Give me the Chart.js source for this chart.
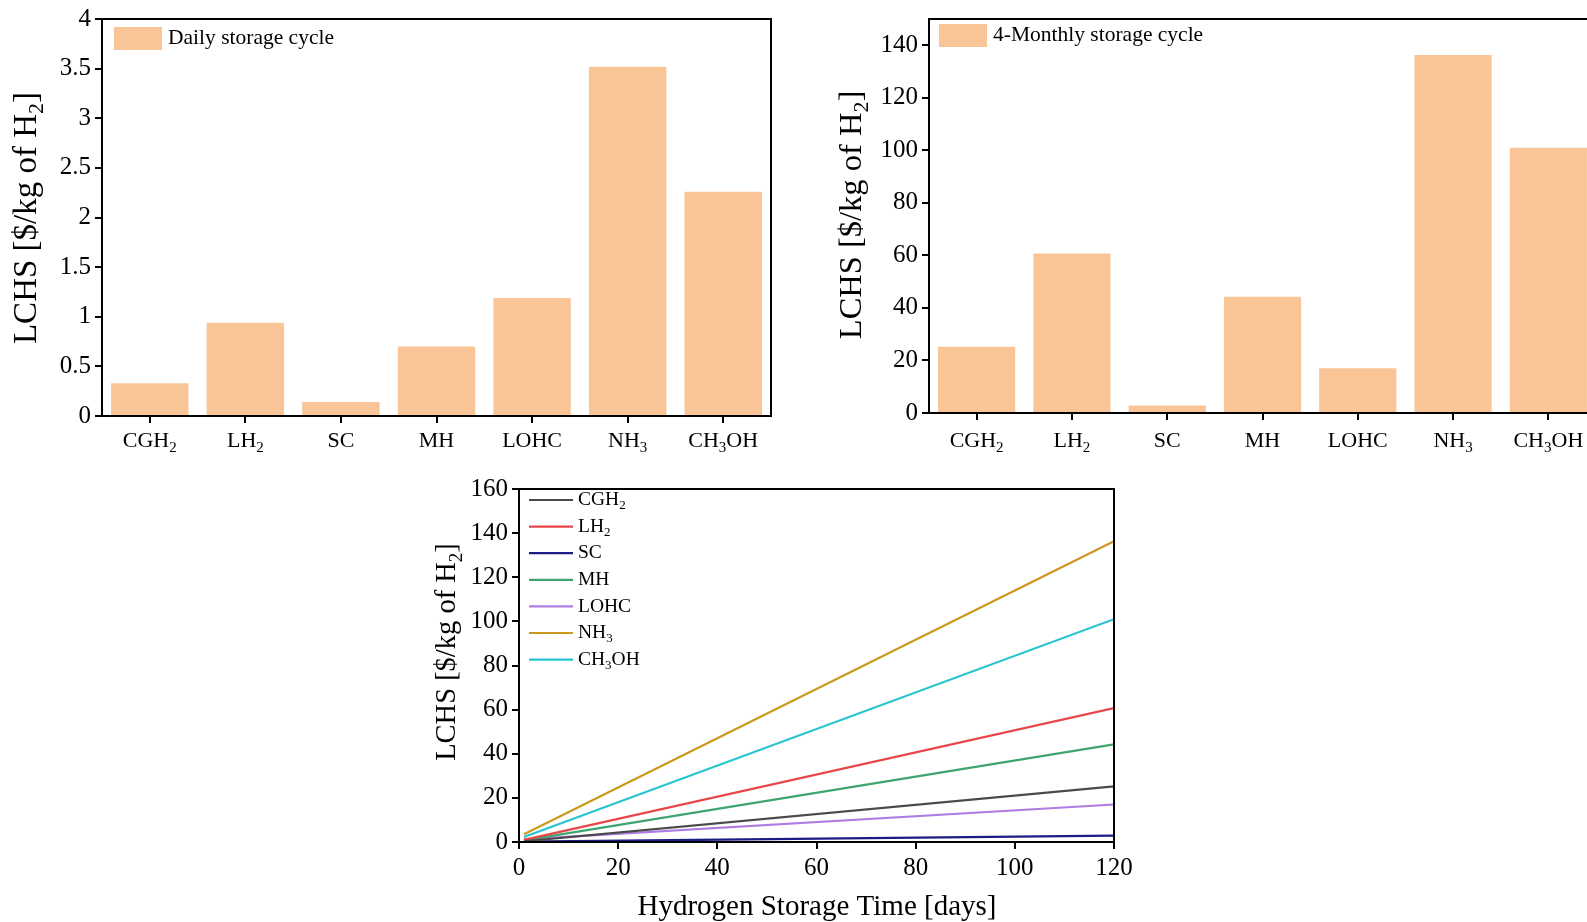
<!DOCTYPE html>
<html>
<head>
<meta charset="utf-8">
<script src="https://cdn.jsdelivr.net/npm/chart.js@4.4.1/dist/chart.umd.min.js"></script>
<style>
  html, body { margin: 0; padding: 0; background: #fff; overflow: hidden; width: 1587px; height: 922px; }
  canvas { position: absolute; }
</style>
</head>
<body>
<canvas id="dailyChart" width="790" height="470" style="left:0;top:0"></canvas>
<canvas id="monthlyChart" width="800" height="470" style="left:820px;top:0"></canvas>
<canvas id="timeChart" width="720" height="452" style="left:420px;top:470px"></canvas>

<script>
// storage types ("_" marks a subscript digit)
const storageTypes = ["CGH_2", "LH_2", "SC", "MH", "LOHC", "NH_3", "CH_3OH"];
// LCHS, $/kg of H2
const dailyCost = [0.33, 0.94, 0.14, 0.70, 1.19, 3.52, 2.26];
const monthlyCost = [25.2, 60.7, 2.9, 44.3, 17.0, 136.3, 101.0];
// storage time, days (start and end of the 4-month cycle)
const storageDays = [1, 120];
const dailyTicks = [0, 0.5, 1, 1.5, 2, 2.5, 3, 3.5, 4];
const monthlyTicks = [0, 20, 40, 60, 80, 100, 120, 140];
const dayTicks = [0, 20, 40, 60, 80, 100, 120];

const lineColors = ["#4a4a4a", "#e8474a", "#1c1c86", "#3ea56e", "#b07ce0", "#c99a1c", "#25c4cf"];
const barColor = "#f9c596";
const SERIF = "'Liberation Serif', 'Times New Roman', serif";

// draws text with "_d" parts as subscripts
function drawRich(ctx, text, x, y, size, align) {
  const parts = [];
  const re = /_(\d)/g;
  let last = 0, m;
  while ((m = re.exec(text)) !== null) {
    if (m.index > last) parts.push({ t: text.slice(last, m.index), sub: false });
    parts.push({ t: m[1], sub: true });
    last = re.lastIndex;
  }
  if (last < text.length) parts.push({ t: text.slice(last), sub: false });

  let total = 0;
  parts.forEach(p => {
    ctx.font = (p.sub ? Math.round(size * 0.68) : size) + "px " + SERIF;
    p.w = ctx.measureText(p.t).width;
    total += p.w;
  });
  let cx = x;
  if (align === "center") cx = x - total / 2;
  else if (align === "right") cx = x - total;
  ctx.textBaseline = "middle";
  ctx.textAlign = "left";
  ctx.fillStyle = "#000";
  parts.forEach(p => {
    ctx.font = (p.sub ? Math.round(size * 0.68) : size) + "px " + SERIF;
    ctx.fillText(p.t, cx, p.sub ? y + size * 0.3 : y);
    cx += p.w;
  });
}

function frame(chart) {
  const a = chart.chartArea, ctx = chart.ctx;
  ctx.save();
  ctx.strokeStyle = "#000";
  ctx.lineWidth = 2;
  ctx.strokeRect(a.left, a.top, a.right - a.left, a.bottom - a.top);
  ctx.restore();
}

function yTitle(ctx, text, cx, cy, size) {
  ctx.save();
  ctx.translate(cx, cy);
  ctx.rotate(-Math.PI / 2);
  drawRich(ctx, text, 0, 0, size, "center");
  ctx.restore();
}

function barDecor(cfg) {
  return {
    id: "barDecor",
    afterDraw(chart) {
      const ctx = chart.ctx, xs = chart.scales.x;
      frame(chart);
      ctx.save();
      storageTypes.forEach((name, i) => {
        drawRich(ctx, name, xs.getPixelForTick(i), chart.chartArea.bottom + cfg.labelGap, 22, "center");
      });
      yTitle(ctx, "LCHS [$/kg of H_2]", cfg.titleX, cfg.titleY, cfg.titleSize);
      ctx.fillStyle = barColor;
      ctx.fillRect(cfg.legX, cfg.legY, 48, 23);
      drawRich(ctx, cfg.legend, cfg.legX + 54, cfg.legY + 11.5, 21.5, "left");
      ctx.restore();
    }
  };
}

function axisCommon(fontSize) {
  return {
    border: { color: "#000", width: 2 },
    grid: { drawOnChartArea: false, drawTicks: true, tickLength: 7, color: "#000", lineWidth: 2, offset: false },
    ticks: { color: "#000", font: { family: SERIF, size: fontSize }, padding: 4, callback: v => String(v) }
  };
}

function barChart(id, values, max, ticks, fitW, fitH, pad, decor) {
  const xAxis = axisCommon(22);
  xAxis.ticks.callback = () => "";
  xAxis.afterFit = s => { s.height = fitH; };
  const yAxis = axisCommon(25);
  yAxis.min = 0;
  yAxis.max = max;
  yAxis.ticks.stepSize = ticks[1] - ticks[0];
  yAxis.afterBuildTicks = s => { s.ticks = ticks.map(v => ({ value: v })); };
  yAxis.afterFit = s => { s.width = fitW; };
  new Chart(document.getElementById(id), {
    type: "bar",
    data: {
      labels: storageTypes,
      datasets: [{ data: values, backgroundColor: barColor, barPercentage: 0.81, categoryPercentage: 1 }]
    },
    options: {
      responsive: false,
      devicePixelRatio: 1,
      animation: false,
      layout: { padding: pad },
      plugins: { legend: { display: false }, tooltip: { enabled: false } },
      scales: { x: xAxis, y: yAxis }
    },
    plugins: [decor]
  });
}

barChart("dailyChart", dailyCost, 4, dailyTicks, 102, 54, { top: 18, right: 19, left: 0, bottom: 0 },
  barDecor({ labelGap: 25, titleX: 27, titleY: 218, titleSize: 33, legX: 114, legY: 27, legend: "Daily storage cycle" }));

barChart("monthlyChart", monthlyCost, 150, monthlyTicks, 109, 57, { top: 17, right: 24, left: 0, bottom: 0 },
  barDecor({ labelGap: 28, titleX: 32, titleY: 215, titleSize: 32.5, legX: 119, legY: 24, legend: "4-Monthly storage cycle" }));

// LCHS vs storage time
const lineDecor = {
  id: "lineDecor",
  afterDraw(chart) {
    const ctx = chart.ctx;
    frame(chart);
    ctx.save();
    storageTypes.forEach((name, i) => {
      const y = 30 + i * 26.6;
      ctx.strokeStyle = lineColors[i];
      ctx.lineWidth = 2.2;
      ctx.beginPath();
      ctx.moveTo(109, y);
      ctx.lineTo(153, y);
      ctx.stroke();
      drawRich(ctx, name, 158, y, 19.5, "left");
    });
    yTitle(ctx, "LCHS [$/kg of H_2]", 28, 182, 28.5);
    drawRich(ctx, "Hydrogen Storage Time [days]", 397, 437, 29, "center");
    ctx.restore();
  }
};

const xLine = axisCommon(25);
xLine.type = "linear";
xLine.min = 0;
xLine.max = 120;
xLine.ticks.stepSize = 20;
xLine.ticks.padding = 4;
xLine.afterBuildTicks = s => { s.ticks = dayTicks.map(v => ({ value: v })); };
xLine.afterFit = s => { s.height = 80; };
const yLine = axisCommon(25);
yLine.min = 0;
yLine.max = 160;
yLine.ticks.stepSize = 20;
yLine.afterFit = s => { s.width = 99; };

new Chart(document.getElementById("timeChart"), {
  type: "line",
  data: {
    datasets: storageTypes.map((name, i) => ({
      label: name,
      data: storageDays.map((d, k) => ({ x: d, y: k === 0 ? dailyCost[i] : monthlyCost[i] })),
      borderColor: lineColors[i],
      borderWidth: 2.2,
      pointRadius: 0,
      fill: false
    }))
  },
  options: {
    responsive: false,
    devicePixelRatio: 1,
    animation: false,
    layout: { padding: { top: 16, right: 26, left: 0, bottom: 0 } },
    plugins: { legend: { display: false }, tooltip: { enabled: false } },
    scales: { x: xLine, y: yLine }
  },
  plugins: [lineDecor]
});
</script>
</body>
</html>
